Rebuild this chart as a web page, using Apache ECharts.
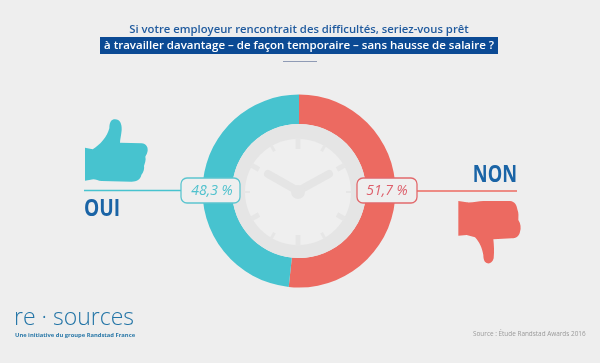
<!DOCTYPE html>
<html><head><meta charset="utf-8">
<style>html,body{margin:0;padding:0;background:#eeeeee}#c{width:600px;height:363px}</style>
<script src="https://cdn.jsdelivr.net/npm/echarts@6/dist/echarts.min.js"></script>
</head><body><div id="c"></div>
<script>
const categories = ['NON', 'OUI'];
const values = [51.7, 48.3];
const titleLines = ['Si votre employeur rencontrait des difficultés, seriez-vous prêt',
  'à travailler davantage – de façon temporaire – sans hausse de salaire ?'];
const logoText = 're · sources';
const logoSub = 'Une initiative du groupe Randstad France';
const sourceText = 'Source : Étude Randstad Awards 2016';

const TEAL = '#47c3cf', RED = '#ec6a61', BLUE = '#1a64a6', NAVY = '#0b4a94';
const fmt = v => v.toFixed(1).replace('.', ',') + ' %';
const cx = 299, cy = 191;
const g = [];

echarts.graphic.registerShape('thumbUp', echarts.graphic.extendPath(
  'M45,113 L68,118 C90,105 112,80 118,55 C118,35 125,28 135,28 C150,28 156,42 155,60 C154,75 150,88 150,98 L215,100 C228,102 234,110 233,122 C232,130 228,135 226,140 C229,150 224,160 222,168 C224,180 218,190 214,195 C212,208 200,215 185,215 L95,213 C85,213 78,208 70,208 L45,212 Z', {}));
echarts.graphic.registerShape('thumbDown', echarts.graphic.extendPath(
  'M325,153 L350,157 C370,158 385,153 400,153 L480,153 C495,155 500,165 502,178 C507,190 505,200 505,210 C512,220 514,235 510,245 C508,258 498,265 485,265 L430,268 C432,285 433,305 431,325 C428,337 420,342 412,340 C402,337 400,325 400,315 C397,295 388,275 375,262 L350,255 L325,257 Z', {}));

// clock face
g.push({type:'circle', z:1, shape:{cx, cy, r:67}, style:{fill:'#e5e5e5'}});
g.push({type:'circle', z:2, shape:{cx:cx-1, cy:cy+1, r:53}, style:{fill:'#efefef'}});
const tickW = [5,3,5,2,5,3,5,3,5,2,5,3], tickIn = [43,47,45,48,45,47,43,47,45,48,45,47];
for (let h = 0; h < 12; h++) {
  const a = h * Math.PI / 6;
  const r1 = 54, r0 = tickIn[h];
  const s = Math.sin(a), c = Math.cos(a);
  g.push({type:'line', z:3, shape:{x1:cx-1+s*r0, y1:cy+1-c*r0, x2:cx-1+s*r1, y2:cy+1-c*r1},
    style:{stroke:'#e6e6e6', lineWidth: tickW[h]}});
}
[[268,174],[329,174]].forEach(p => g.push({type:'line', z:3,
  shape:{x1:298, y1:191, x2:p[0], y2:p[1]}, style:{stroke:'#e5e5e5', lineWidth:8, lineCap:'round'}}));
g.push({type:'circle', z:3, shape:{cx:298, cy:192, r:7}, style:{fill:'#e5e5e5'}});

// leader lines and value boxes
g.push({type:'line', z:5, shape:{x1:84, y1:190.5, x2:182, y2:190.5}, style:{stroke:TEAL, lineWidth:1.5}});
g.push({type:'line', z:5, shape:{x1:416, y1:191, x2:517, y2:191}, style:{stroke:RED, lineWidth:1.5}});
g.push({type:'rect', z:6, shape:{x:181, y:178, width:59, height:25, r:6}, style:{fill:'#efefef', stroke:'#5cc5cf', lineWidth:1.3}});
g.push({type:'rect', z:6, shape:{x:357, y:178, width:60, height:25, r:6}, style:{fill:'#efefef', stroke:'#e2696c', lineWidth:1.3}});
const pct = (x, color, v) => ({type:'text', z:7, x, y:191, style:{text:fmt(v), fill:color, align:'center', verticalAlign:'middle',
  font:'italic 14px "Open Sans", sans-serif'}});
g.push(pct(212, '#4fc1cd', values[1]), pct(387, '#dd5f6b', values[0]));

// thumbs
g.push({type:'thumbUp', z:4, x:70, y:110, scaleX:1/3, scaleY:1/3, shape:{}, style:{fill:TEAL}});
g.push({type:'thumbDown', z:4, x:350, y:150, scaleX:1/3, scaleY:1/3, shape:{}, style:{fill:RED}});

// OUI / NON
g.push({type:'text', z:5, x:84, y:209, scaleX:0.8, style:{text:categories[1], fill:BLUE, verticalAlign:'middle',
  font:'bold 24px "Open Sans", sans-serif'}});
g.push({type:'text', z:5, x:517, y:175, scaleX:0.76, style:{text:categories[0], fill:BLUE, align:'right', verticalAlign:'middle',
  font:'bold 24px "Open Sans", sans-serif'}});

// title
g.push({type:'rect', z:1, shape:{x:100, y:37, width:398, height:17}, style:{fill:NAVY}});
g.push({type:'text', z:2, x:299, y:30, style:{text:titleLines[0], fill:'#1f5a9e', align:'center', verticalAlign:'middle',
  font:'600 11.3px "Open Sans", sans-serif'}});
g.push({type:'text', z:2, x:299, y:46, style:{text:titleLines[1], fill:'#ffffff', align:'center', verticalAlign:'middle',
  font:'600 11.5px "Open Sans", sans-serif'}});
g.push({type:'line', z:2, shape:{x1:283, y1:61.5, x2:317, y2:61.5}, style:{stroke:'#8f9bb5', lineWidth:1}});

// logo and source
g.push({type:'text', z:2, x:14, y:318, style:{text:logoText, fill:'#2274a6', verticalAlign:'middle',
  font:'300 23px "Open Sans", sans-serif'}});
g.push({type:'text', z:2, x:15, y:335.5, style:{text:logoSub, fill:'#2a78a8', verticalAlign:'middle',
  font:'bold 5.8px "Open Sans", sans-serif'}});
g.push({type:'text', z:2, x:473, y:334, style:{text:sourceText, fill:'#9a9a9a', verticalAlign:'middle',
  font:'6.4px "Open Sans", sans-serif'}});

const chart = echarts.init(document.getElementById('c'), null, {renderer:'canvas'});
chart.setOption({
  animation:false,
  backgroundColor:'#eeeeee',
  graphic:{elements:g},
  series:[{
    type:'pie', center:[cx, cy], radius:[67, 96.5], startAngle:90, clockwise:true,
    z:0, label:{show:false}, labelLine:{show:false}, silent:true, itemStyle:{borderWidth:0},
    data: categories.map((n,i)=>({name:n, value:values[i], itemStyle:{color:[RED,TEAL][i]}}))
  }]
});
</script></body></html>
